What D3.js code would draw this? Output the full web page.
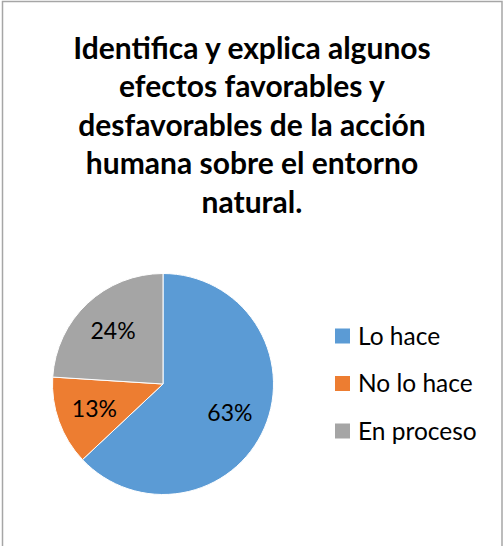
<!DOCTYPE html>
<html lang="es">
  <head>
    <meta charset="UTF-8" />
    <title>Acción humana sobre el entorno natural</title>
    <script src="https://d3js.org/d3.v7.min.js"></script>
    <style>
      body {
        margin: 0;
        background: #fff;
      }
      text {
        font-family: Lato, "Open Sans", sans-serif;
        fill: #000;
      }
    </style>
  </head>
  <body>
    <div id="chart"></div>
    <script>
      // data
      var titleLines = [
        "Identifica y explica algunos",
        "efectos favorables y",
        "desfavorables de la acción",
        "humana sobre el entorno",
        "natural.",
      ];
      var categories = ["Lo hace", "No lo hace", "En proceso"];
      var values = [63, 13, 24];
      var colors = ["#5b9bd5", "#ed7d31", "#a5a5a5"];

      var width = 503,
        height = 546;

      var svg = d3
        .select("#chart")
        .append("svg")
        .attr("width", width)
        .attr("height", height);

      // chart frame (bottom edge falls outside the picture)
      svg
        .append("rect")
        .attr("x", 2.5)
        .attr("y", 1.5)
        .attr("width", 499.5)
        .attr("height", 570)
        .attr("fill", "none")
        .attr("stroke", "#a6a6a6")
        .attr("stroke-width", 1.5);

      // title
      svg
        .append("g")
        .selectAll("text")
        .data(titleLines)
        .enter()
        .append("text")
        .attr("x", 252)
        .attr("y", (d, i) => 59 + i * 38.4)
        .attr("text-anchor", "middle")
        .style("font-weight", "bold")
        .style("font-size", "30px")
        .text((d) => d);

      // pie
      var cx = 163,
        cy = 384,
        radius = 110.5;

      var color = d3.scaleOrdinal().domain(categories).range(colors);

      var pie = d3
        .pie()
        .sort(null)
        .value((d) => d.value);

      var slices = pie(categories.map((c, i) => ({ name: c, value: values[i] })));

      var arc = d3.arc().innerRadius(0).outerRadius(radius);
      var labelArc = d3
        .arc()
        .innerRadius(radius * 0.66)
        .outerRadius(radius * 0.66);

      var g = svg.append("g").attr("transform", "translate(" + cx + "," + cy + ")");

      g.selectAll("path")
        .data(slices)
        .enter()
        .append("path")
        .attr("d", arc)
        .attr("fill", (d) => color(d.data.name))
        .attr("stroke", "#fff")
        .attr("stroke-width", 1);

      g.selectAll("text")
        .data(slices)
        .enter()
        .append("text")
        .attr("transform", (d) => "translate(" + labelArc.centroid(d) + ")")
        .attr("text-anchor", "middle")
        .attr("dy", "0.36em")
        .style("font-size", "23px")
        .text((d) => d.data.value + "%");

      // legend
      var legend = svg
        .append("g")
        .attr("transform", "translate(335,336)")
        .selectAll("g")
        .data(categories)
        .enter()
        .append("g")
        .attr("transform", (d, i) => "translate(0," + i * 47.5 + ")");

      legend
        .append("rect")
        .attr("x", 0)
        .attr("y", -7.5)
        .attr("width", 15)
        .attr("height", 15)
        .attr("fill", (d) => color(d));

      legend
        .append("text")
        .attr("x", 23)
        .attr("y", 0)
        .attr("dy", "0.36em")
        .style("font-size", "24.5px")
        .text((d) => d);
    </script>
  </body>
</html>
